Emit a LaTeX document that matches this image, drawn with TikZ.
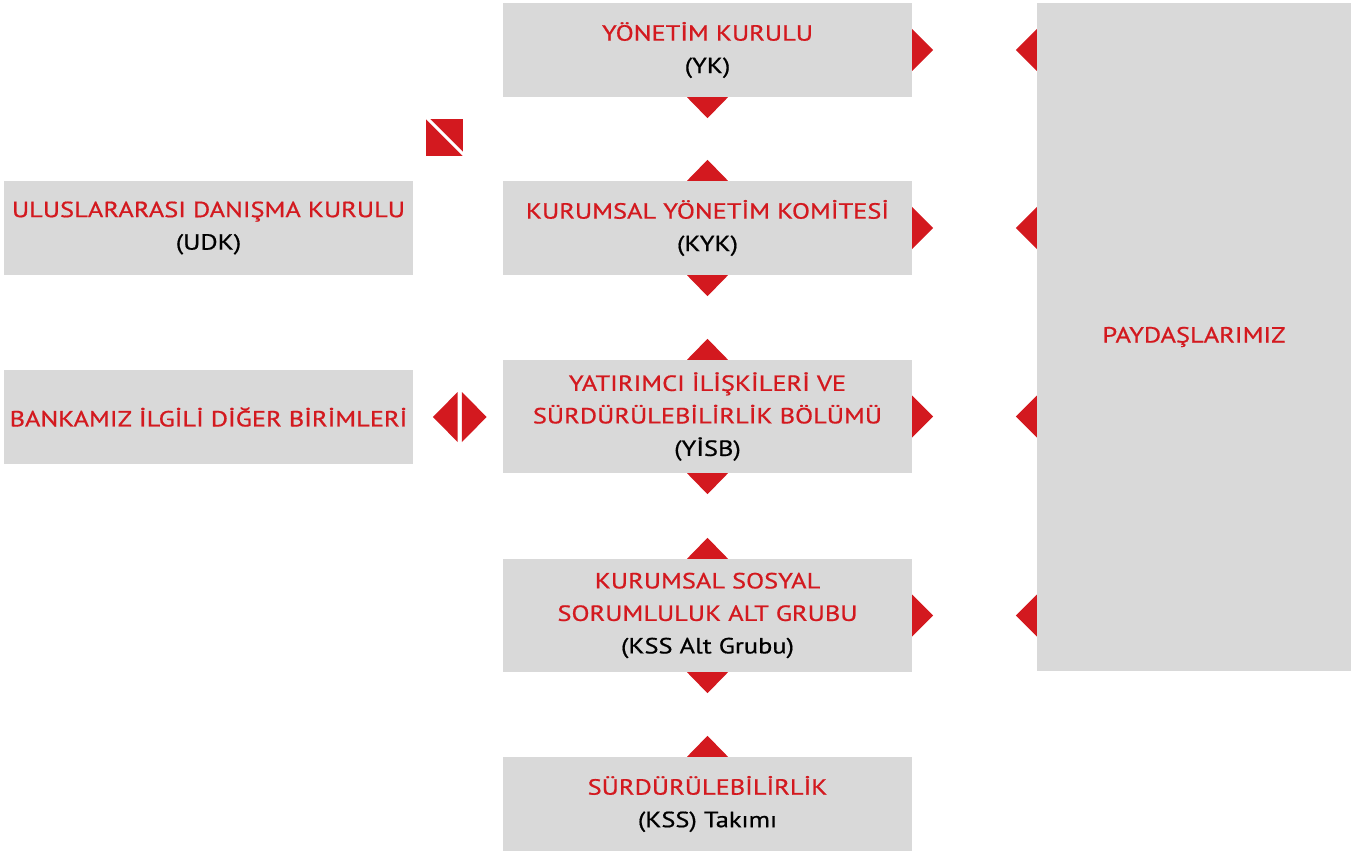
\documentclass[tikz,border=0pt]{standalone}
\usepackage{fontspec}
\setmainfont{PT Sans}[FakeStretch=1.2,FakeBold=0.7]
\usetikzlibrary{calc}
\definecolor{ired}{RGB}{211,25,31}
\definecolor{igray}{RGB}{217,217,217}
\newcommand\mytridown[1]{\fill[tri] ($(#1.south)+(-20.5,0)$) -- ($(#1.south)+(20.5,0)$) -- ($(#1.south)+(0,21)$) -- cycle;}
\newcommand\mytriup[1]{\fill[tri] ($(#1.north)+(-20.5,0)$) -- ($(#1.north)+(20.5,0)$) -- ($(#1.north)+(0,-21)$) -- cycle;}
\newcommand\mytriright[1]{\fill[tri] ($(#1.east)+(0,-21)$) -- ($(#1.east)+(0,21)$) -- ($(#1.east)+(21,0)$) -- cycle;}
\newcommand\mytrileft[1]{\fill[tri] ($(pay.west |- #1.east)+(0,-21)$) -- ($(pay.west |- #1.east)+(0,21)$) -- ($(pay.west |- #1.east)+(-21,0)$) -- cycle;}
\begin{document}
\begin{tikzpicture}[x=1pt,y=-1pt,
  box/.style={fill=igray, draw=none, minimum width=409pt, minimum height=94pt, inner sep=0pt, align=center, font=\fontsize{22}{32.5}\selectfont, text=ired},
  tall/.style={box, minimum height=113pt},
  tri/.style={fill=ired, draw=none}]
\useasboundingbox (0,0) rectangle (1360,853);
\node[box] (yk) at (707.5,50) {YÖNETİM KURULU\\\textcolor{black}{(YK)}};
\node[box] (kyk) at (707.5,228) {KURUMSAL YÖNETİM KOMİTESİ\\\textcolor{black}{(KYK)}};
\node[tall] (yisb) at (707.5,416.5) {YATIRIMCI İLİŞKİLERİ VE\\SÜRDÜRÜLEBİLİRLİK BÖLÜMÜ\\\textcolor{black}{(YİSB)}};
\node[tall] (kss) at (707.5,615.5) {KURUMSAL SOSYAL\\SORUMLULUK ALT GRUBU\\\textcolor{black}{(KSS Alt Grubu)}};
\node[box] (srd) at (707.5,804) {SÜRDÜRÜLEBİLİRLİK\\\textcolor{black}{(KSS) Takımı}};
\node[box] (udk) at (208.5,228) {ULUSLARARASI DANIŞMA KURULU\\\textcolor{black}{(UDK)}};
\node[box] (bnk) at (208.5,417) {BANKAMIZ İLGİLİ DİĞER BİRİMLERİ};
\node[box, minimum width=314pt, minimum height=668pt] (pay) at (1194,337) {PAYDAŞLARIMIZ};
% vertical links
\mytridown{yk}\mytriup{kyk}
\mytridown{kyk}\mytriup{yisb}
\mytridown{yisb}\mytriup{kss}
\mytridown{kss}\mytriup{srd}
% links to stakeholders
\mytriright{yk}\mytrileft{yk}
\mytriright{kyk}\mytrileft{kyk}
\mytriright{yisb}\mytrileft{yisb}
\mytriright{kss}\mytrileft{kss}
% two-way link between units and YISB
\coordinate (dm) at ($(bnk.east)!0.52!(yisb.west |- bnk.east)$);
\fill[tri] ($(dm)+(-2.2,-25)$) -- ($(dm)+(-2.2,25)$) -- ($(dm)+(-26.8,0)$) -- cycle;
\fill[tri] ($(dm)+(2.2,-25)$) -- ($(dm)+(2.2,25)$) -- ($(dm)+(26.8,0)$) -- cycle;
% icon
\begin{scope}
\clip (426,119) rectangle (463,156);
\fill[ired] (426,119) rectangle (463,156);
\draw[white, line width=3pt] (427,118) -- (464,155);
\end{scope}
\end{tikzpicture}
\end{document}
